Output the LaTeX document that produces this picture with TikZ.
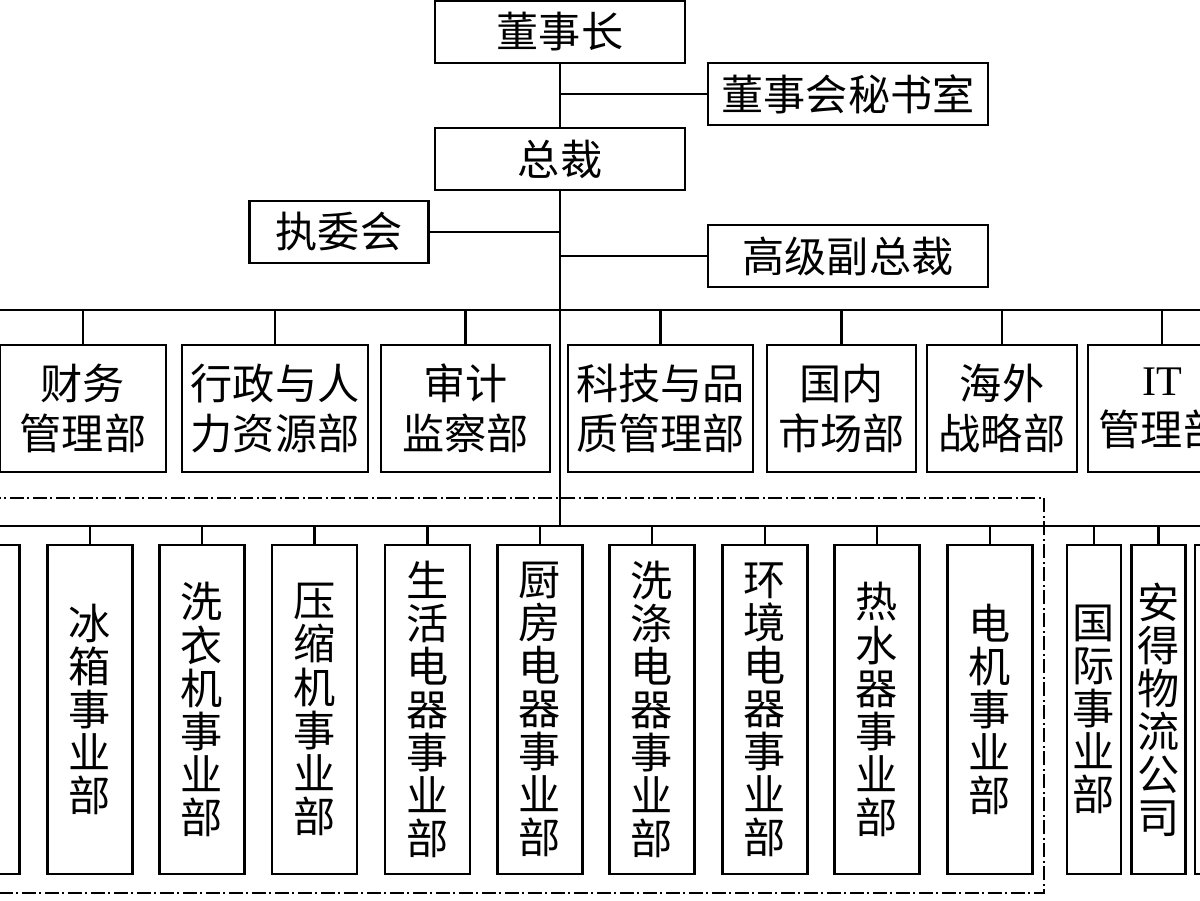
\documentclass[tikz,border=0pt]{standalone}
\usepackage{fontspec}
\setmainfont{Liberation Serif}
\newfontfamily\cjk{Noto Sans CJK SC}

\begin{document}
\begin{tikzpicture}[x=0.02cm, y=-0.02cm, line width=1.3pt, % 1 Einheit = 1 Pixel
    box/.style={draw, inner sep=0pt, align=center, font=\cjk\fontsize{24}{28.5}\selectfont},
    head/.style={box, minimum width=5cm, minimum height=1.24cm},
    side/.style={box, minimum height=1.24cm},
    dept/.style={box, minimum height=2.54cm},
    unit/.style={box, minimum width=1.7cm, minimum height=6.58cm, font=\cjk\fontsize{24}{24.5}\selectfont},
    intl/.style={unit, minimum width=1.08cm},
    frame/.style={line width=1.1pt, dash pattern=on 0.28cm off 0.07cm on 0.04cm off 0.07cm}]
  \useasboundingbox (0,0) rectangle (1200,900);
  \clip (0,0) rectangle (1200,900);

  % Leitung
  \node[head] (chair) at (560,32) {董事长};
  \node[side, minimum width=5.6cm] (office) at (848,94) {董事会秘书室};
  \node[head] (pres) at (560,159) {总裁};
  \node[side, minimum width=3.58cm] (excom) at (339,232) {执委会};
  \node[side, minimum width=5.6cm] (svp) at (848,256) {高级副总裁};

  \coordinate (ubus) at (560,310);
  \coordinate (lbus) at (560,526);
  \coordinate (ubusW) at (-10,310);
  \coordinate (ubusE) at (1210,310);
  \coordinate (lbusW) at (-10,526);
  \coordinate (lbusE) at (1210,526);

  \draw (chair.south) -- (pres.north);
  \draw (office.west) -- (office.west -| chair.south);
  \draw (excom.east) -- (excom.east -| pres.south);
  \draw (svp.west) -- (svp.west -| pres.south);
  \draw (pres.south) -- (lbus);
  \draw (ubusW) -- (ubusE);
  \draw (lbusW) -- (lbusE);

  % Stabsabteilungen
  \foreach \nm/\x/\w/\txt in {fin/83/3.32cm/{财务\\管理部}, hr/275/3.72cm/{行政与人\\力资源部},
      audit/465.5/3.38cm/{审计\\监察部}, tech/660.5/3.7cm/{科技与品\\质管理部},
      dom/841.5/2.98cm/{国内\\市场部}, ovs/1002/3.0cm/{海外\\战略部},
      it/1162/2.96cm/{{\rmfamily IT}\\管理部}}
  {
    \node[dept, minimum width=\w] (\nm) at (\x,408.5) {\txt};
    \draw (\nm.north) -- (\nm.north |- ubus);
  }

  % Geschaeftsbereiche
  \draw[frame] (-20,498) rectangle (1044,893);
  \foreach \nm/\x/\txt in {left/-23/{}, fridge/90/{冰\\箱\\事\\业\\部},
      washer/202/{洗\\衣\\机\\事\\业\\部}, compressor/314.5/{压\\缩\\机\\事\\业\\部},
      living/427.5/{生\\活\\电\\器\\事\\业\\部}, kitchen/540/{厨\\房\\电\\器\\事\\业\\部},
      cleaning/652/{洗\\涤\\电\\器\\事\\业\\部}, climate/765/{环\\境\\电\\器\\事\\业\\部},
      heater/877/{热\\水\\器\\事\\业\\部}, motor/990/{电\\机\\事\\业\\部}}
  {
    \node[unit] (\nm) at (\x,709.5) {\txt};
    \draw (\nm.north) -- (\nm.north |- lbus);
  }
  \foreach \nm/\x/\txt in {intl/1094/{国\\际\\事\\业\\部}, logistics/1158.5/{安\\得\\物\\流\\公\\司},
      right/1222/{}}
  {
    \node[intl] (\nm) at (\x,709.5) {\txt};
    \draw (\nm.north) -- (\nm.north |- lbus);
  }
\end{tikzpicture}
\end{document}
